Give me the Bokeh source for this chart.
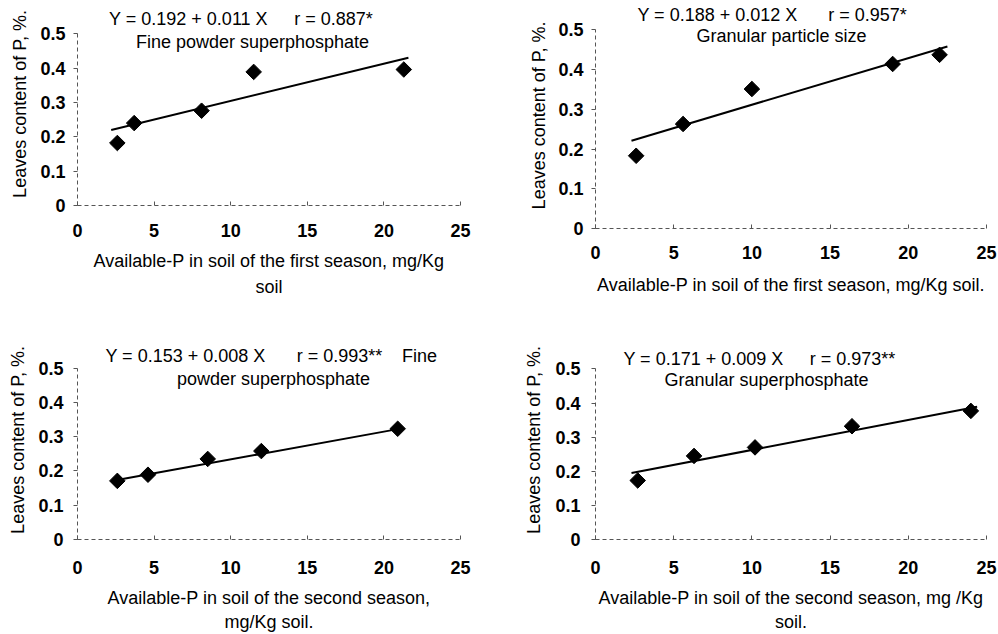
import math
from bokeh.plotting import figure
from bokeh.layouts import column, row
from bokeh.models import Label, Range1d, FixedTicker, CustomJSTickFormatter
from bokeh.embed import file_html
from bokeh.resources import INLINE

FONT = "Liberation Sans"

# ---------------- data ----------------
x_ticks = [0, 5, 10, 15, 20, 25]
y_ticks = [0, 0.1, 0.2, 0.3, 0.4, 0.5]

p1_x = [2.6, 3.7, 8.1, 11.5, 21.3]
p1_y = [0.182, 0.240, 0.276, 0.389, 0.396]
p1_tx = [2.2, 21.6]
p1_ty = [0.220, 0.430]

p2_x = [2.6, 5.6, 10.0, 19.0, 22.0]
p2_y = [0.183, 0.263, 0.351, 0.414, 0.437]
p2_tx = [2.3, 22.5]
p2_ty = [0.221, 0.458]

p3_x = [2.6, 4.6, 8.5, 12.0, 20.9]
p3_y = [0.171, 0.189, 0.235, 0.258, 0.323]
p3_tx = [2.4, 20.9]
p3_ty = [0.172, 0.322]

p4_x = [2.7, 6.3, 10.2, 16.4, 24.0]
p4_y = [0.173, 0.245, 0.270, 0.332, 0.377]
p4_tx = [2.3, 24.4]
p4_ty = [0.195, 0.389]

y_label = "Leaves content of P, %."
p1_xlabel = "Available-P in soil of the first season, mg/Kg\nsoil"
p2_xlabel = "Available-P in soil of the first season, mg/Kg soil."
p3_xlabel = "Available-P in soil of the second season,\nmg/Kg soil."
p4_xlabel = "Available-P in soil of the second season, mg /Kg\nsoil."


def make_panel(W, H, ox, oy, fl, fw, ft, fb, y05, xs, ys, tx, ty, xlabel, texts,
               xstand, xlstand, ystand, ylstand, xl_lh=1.2):
    # fb: canvas px of y=0 (frame bottom); y05: canvas px of y=0.5
    scale = (fb - y05) / 0.5
    y_end = (fb - ft) / scale
    p = figure(width=W, height=H, x_range=Range1d(0, 25), y_range=Range1d(0, y_end),
               output_backend="svg", toolbar_location=None,
               min_border_left=fl, min_border_top=ft,
               min_border_right=W - fl - fw, min_border_bottom=H - fb)
    p.outline_line_color = None
    p.grid.visible = False
    p.background_fill_color = "white"
    p.border_fill_color = "white"

    p.xaxis.ticker = FixedTicker(ticks=x_ticks)
    p.yaxis.ticker = FixedTicker(ticks=y_ticks)
    p.yaxis.bounds = (0, 0.5)
    p.yaxis.formatter = CustomJSTickFormatter(code="return String(Math.round(tick*10)/10)")
    for ax in (p.xaxis[0], p.yaxis[0]):
        ax.axis_line_color = "#555555"
        ax.axis_line_dash = "4 3"
        ax.axis_line_width = 1
        ax.major_tick_line_color = "#555555"
        ax.minor_tick_line_color = None
        ax.major_label_text_font = FONT
        ax.major_label_text_font_size = "18px"
        ax.major_label_text_font_style = "bold"
        ax.major_label_text_color = "black"
        ax.axis_label_text_font = FONT
        ax.axis_label_text_font_size = "18px"
        ax.axis_label_text_font_style = "normal"
        ax.axis_label_text_color = "black"
    p.xaxis.axis_label_text_line_height = xl_lh
    p.xaxis.major_tick_in = 4
    p.xaxis.major_tick_out = 0
    p.yaxis.major_tick_in = 0
    p.yaxis.major_tick_out = 4
    p.xaxis.major_label_standoff = xstand
    p.xaxis.axis_label_standoff = xlstand
    p.yaxis.major_label_standoff = ystand
    p.yaxis.axis_label_standoff = ylstand
    p.xaxis.axis_label = xlabel
    p.yaxis.axis_label = y_label

    p.line(tx, ty, line_color="black", line_width=2)
    p.scatter(xs, ys, marker="square", size=11, angle=math.pi / 4,
              fill_color="black", line_color="black")

    # text pieces given as page-pixel centers, converted to data units
    for txt, px, py in texts:
        dx = (px - (ox + fl)) / fw * 25
        dy = ((oy + fb) - py) / scale
        p.add_layout(Label(x=dx, y=dy, text=txt, text_align="center",
                           text_baseline="middle", text_font=FONT,
                           text_font_size="18px", text_color="black"))
    return p


p1 = make_panel(498, 310, 0, 0, 77, 383, 2, 205, 33.3, p1_x, p1_y, p1_tx, p1_ty, p1_xlabel,
                [("Y = 0.192 + 0.011 X", 188, 18), ("r = 0.887*", 333, 18),
                 ("Fine powder superphosphate", 252, 41)],
                18, 11, 8, 7, xl_lh=1.33)
p2 = make_panel(500, 310, 498, 0, 97, 391, 2, 228, 29.3, p2_x, p2_y, p2_tx, p2_ty, p2_xlabel,
                [("Y = 0.188 + 0.012 X", 717, 14), ("r = 0.957*", 867, 14),
                 ("Granular particle size", 781, 35)],
                17, 13, 8, 6)
p3 = make_panel(498, 324, 0, 310, 77, 383, 30, 234, 58.3, p3_x, p3_y, p3_tx, p3_ty, p3_xlabel,
                [("Y = 0.153 + 0.008 X", 185, 356), ("r = 0.993**", 339, 356),
                 ("Fine", 419, 356), ("powder superphosphate", 273, 379)],
                21, 11, 10, 7)
p4 = make_panel(500, 324, 498, 310, 97, 391, 30, 235, 59.3, p4_x, p4_y, p4_tx, p4_ty, p4_xlabel,
                [("Y = 0.171 + 0.009 X", 703, 359), ("r = 0.973**", 852, 359),
                 ("Granular superphosphate", 766, 381)],
                21, 11, 11, 8)

layout = row(column(p1, p3), column(p2, p4))
open("out.html", "w").write(file_html(layout, INLINE))
